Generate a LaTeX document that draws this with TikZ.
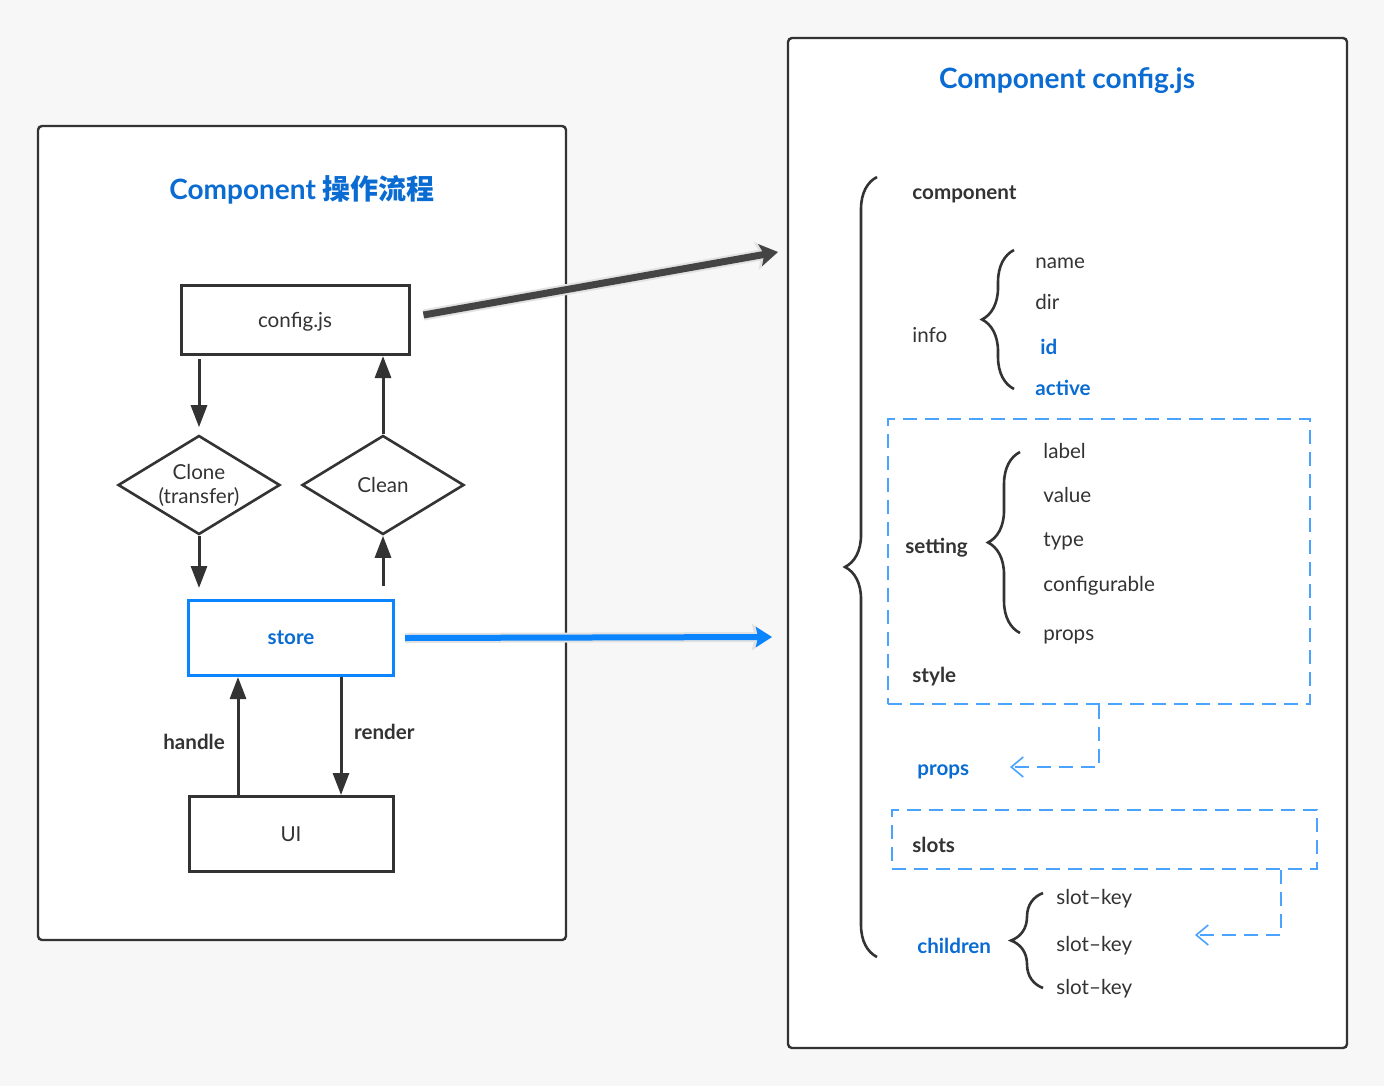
\documentclass[tikz,border=0pt]{standalone}
\usepackage{fontspec}
\setmainfont{Lato}
\newfontfamily\cjk{Noto Sans CJK SC}
\usetikzlibrary{arrows.meta,positioning,shapes.geometric,fit,decorations.pathreplacing}

\definecolor{ink}{HTML}{333333}
\definecolor{titleblue}{HTML}{0A6CD2}
\definecolor{brightblue}{HTML}{0A84FF}
\definecolor{dashblue}{HTML}{4AA3FF}
\definecolor{pagebg}{HTML}{F7F7F7}
\definecolor{halo}{HTML}{E2E2E2}
\definecolor{darkarrow}{HTML}{444444}

\begin{document}
\begin{tikzpicture}[x=0.5pt,y=-0.5pt,
  font=\fontsize{10.3pt}{12pt}\selectfont, text=ink,
  panel/.style={draw=ink,line width=1.2pt,rounded corners=2pt,fill=white,inner sep=0pt},
  title/.style={font=\fontsize{14pt}{16pt}\selectfont\bfseries,text=titleblue,yshift=-1pt},
  box/.style={rectangle,draw=ink,line width=1.5pt,fill=white,minimum width=114pt,minimum height=34.5pt,align=center,text depth=0pt},
  decision/.style={diamond,aspect=1.64,draw=ink,line width=1.3pt,fill=white,minimum width=81pt,minimum height=49.5pt,inner xsep=-4pt,inner ysep=-2pt,align=center},
  flow/.style={draw=ink,line width=1.5pt,-{Triangle[length=11pt,width=8pt]}},
  bigdark/.style={draw=darkarrow,line width=3.5pt,-{Stealth[length=9pt,width=11pt,inset=2pt]},
    preaction={draw=halo,line width=5.5pt,-{Stealth[length=11pt,width=14pt,inset=2.5pt]}}},
  bigblue/.style={draw=brightblue,line width=3pt,-{Stealth[length=8pt,width=10pt,inset=1pt]},
    preaction={draw=halo,line width=5pt,-{Stealth[length=10pt,width=13pt,inset=1.5pt]}}},
  dbox/.style={draw=dashblue,line width=0.8pt,dash pattern=on 7pt off 4pt,inner sep=0pt},
  dlink/.style={draw=dashblue,line width=0.8pt,dash pattern=on 7pt off 4pt,-{Straight Barb[length=6pt,width=10pt]}},
  brace/.style={draw=ink,line width=1.3pt,decorate,decoration={brace,amplitude=16pt}},
  key/.style={anchor=west,inner sep=0pt,yshift=-1.5pt},
  keybold/.style={key,font=\fontsize{10.3pt}{12pt}\selectfont\bfseries},
  keyblue/.style={keybold,text=titleblue}]

  % page and panels
  \fill[pagebg] (0,0) rectangle (1384,1086);
  \useasboundingbox (0,0) rectangle (1384,1086);
  \node[panel,fit={(38,126) (566,940)}] (leftpanel) {};
  \node[panel,fit={(788,38) (1347,1048)}] (rightpanel) {};
  \node[title] (lefttitle) at (302,188) {Component {\cjk 操作流程}};
  \node[title] (righttitle) at (1067,79) {Component config.js};

  % left: flow
  \node[box] (cfg) at (295,320) {config.js};
  \node[decision] (clone) at (199,485) {Clone\\(transfer)};
  \node[decision] (clean) at (383,485) {Clean};
  \node[box,draw=brightblue,minimum width=102.5pt,minimum height=37.5pt,text=titleblue,font=\fontsize{10.3pt}{12pt}\selectfont\bfseries] (store) at (291,638) {store};
  \node[box,minimum width=102pt,minimum height=37.5pt] (ui) at (291,834) {UI};

  \draw[flow,shorten <=1.5pt,shorten >=3.5pt] (cfg.south -| clone.north) -- (clone.north);
  \draw[flow,shorten >=5.5pt] (clone.south) -- (clone.south |- store.north);
  \draw[flow,shorten <=6.5pt] (store.north -| clean.south) -- (clean.south);
  \draw[flow] (clean.north) -- (clean.north |- cfg.south);
  \draw[flow] ([xshift=-26.5pt]ui.north) -- node[left=2.5pt,yshift=-3pt,font=\fontsize{10.3pt}{12pt}\selectfont\bfseries]{handle} ([xshift=-26.5pt]store.south);
  \draw[flow] ([xshift=25pt]store.south) -- node[right=2.5pt,yshift=2pt,font=\fontsize{10.3pt}{12pt}\selectfont\bfseries]{render} ([xshift=25pt]ui.north);

  % links to the right panel
  \coordinate (cfgend) at (778,252);
  \coordinate (storeend) at (772,637);
  \draw[bigdark] ([shift={(6.5pt,2.5pt)}]cfg.east) -- (cfgend);
  \draw[bigblue] ([xshift=5pt]store.east) -- (storeend);

  % right: config.js
  \draw[brace] (877,957) -- (877,177);
  \node[keybold] (component) at (912,191) {component};

  \node[key] (info) at (912,332) {info};
  \draw[brace] (1014,389) -- (1014,250);
  \node[key] (name) at (1035,260) {name};
  \node[key] (dir) at (1035,299) {dir};
  \node[keyblue] (id) at (1040,344) {id};
  \node[keyblue] (active) at (1035,385) {active};

  \node[dbox,fit={(888,419) (1310,704)}] (settingbox) {};
  \node[keybold] (setting) at (905,545) {setting};
  \draw[brace] (1020,633) -- (1020,452);
  \node[key] (label) at (1043,448) {label};
  \node[key] (value) at (1043,492) {value};
  \node[key] (type) at (1043,538) {type};
  \node[key] (configurable) at (1043,583) {configurable};
  \node[key] (setprops) at (1043,634) {props};
  \node[keybold] (style) at (912,674) {style};

  \node[keyblue] (props) at (917,769) {props};
  \coordinate (propsin) at (1010,767);
  \draw[dlink] (settingbox.south) |- (propsin);

  \node[dbox,fit={(892,810) (1317,869)}] (slotsbox) {};
  \node[keybold] (slots) at (912,842) {slots};

  \node[keyblue] (children) at (917,943) {children};
  \draw[brace] (1043,988) -- (1043,893);
  \node[key] (slotA) at (1056,896) {slot–key};
  \node[key] (slotB) at (1056,943) {slot–key};
  \node[key] (slotC) at (1056,986) {slot–key};
  \coordinate (childin) at (1195,935);
  \draw[dlink] ([xshift=88.25pt]slotsbox.south) |- (childin);
\end{tikzpicture}
\end{document}
